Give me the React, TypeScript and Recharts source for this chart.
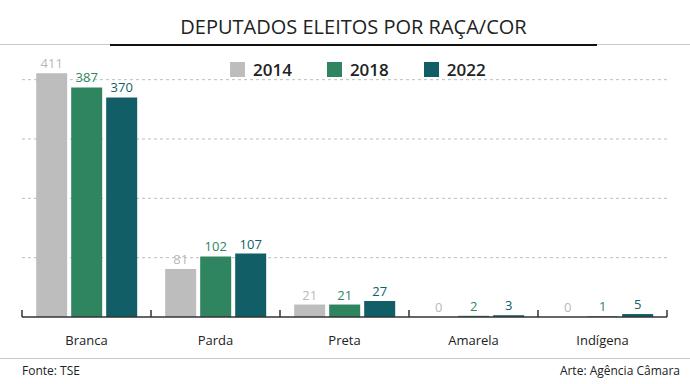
import { BarChart, Bar, XAxis, YAxis, CartesianGrid, LabelList } from "recharts"

const categories = ["Branca", "Parda", "Preta", "Amarela", "Indígena"]
const values2014 = [411, 81, 21, 0, 0]
const values2018 = [387, 102, 21, 2, 1]
const values2022 = [370, 107, 27, 3, 5]
const years = ["2014", "2018", "2022"]
const barColors = ["#bdbdbd", "#2e8560", "#125e66"]
const labelColors = ["#b8b8b8", "#2e8560", "#125e66"]
const yTicks = [0, 100, 200, 300, 400]
const gridValues = [100, 200, 300, 400]

const chartData = categories.map((name, i) => ({
    name,
    y2014: values2014[i],
    y2018: values2018[i],
    y2022: values2022[i],
}))

const font = "'Open Sans', sans-serif"
const TICK_MARGIN = 19

// category label plus small upward tick marks at the category edges
const CategoryTick = (props: any) => {
    const { x, y, payload, index, visibleTicksCount } = props
    const half = payload.offset || 0
    const axisY = y - TICK_MARGIN
    const isLast = index === visibleTicksCount - 1
    return (
        <g>
            <line x1={x - half} x2={x - half} y1={axisY} y2={axisY - 7} stroke="#333" strokeWidth={1.5} />
            {isLast && <line x1={x + half} x2={x + half} y1={axisY} y2={axisY - 7} stroke="#333" strokeWidth={1.5} />}
            <text x={x} y={y} dy="0.71em" textAnchor="middle" fill="#222" fontSize={13} fontFamily={font}>
                {payload.value}
            </text>
        </g>
    )
}

export default function App() {
    return (
        <div style={{ position: "absolute", left: 0, top: 0, width: 690, height: 384, background: "#fff", fontFamily: font }}>
            {/* title */}
            <div style={{ position: "absolute", left: 110, width: 487, top: 13, textAlign: "center", fontSize: 20, color: "#222" }}>
                DEPUTADOS ELEITOS POR RAÇA/COR
            </div>
            <div style={{ position: "absolute", left: 0, width: 690, top: 44, height: 1, background: "#c8c8c8" }} />
            <div style={{ position: "absolute", left: 110, width: 487, top: 44, height: 2, background: "#111" }} />

            <BarChart
                width={690}
                height={384}
                data={chartData}
                margin={{ top: 50, right: 23, left: 22, bottom: 37 }}
                barCategoryGap="11%"
                barGap={4}
            >
                <CartesianGrid vertical={false} stroke="#bdbdbd" strokeDasharray="3 3" horizontalValues={gridValues} />
                <YAxis hide domain={[0, 450]} ticks={yTicks} />
                <XAxis
                    dataKey="name"
                    height={30}
                    axisLine={{ stroke: "#333", strokeWidth: 1.5 }}
                    tickLine={false}
                    tickSize={0}
                    tickMargin={TICK_MARGIN}
                    tick={<CategoryTick />}
                />
                {years.map((yr, i) => (
                    <Bar key={yr} dataKey={"y" + yr} fill={barColors[i]} minPointSize={0.01} isAnimationActive={false}>
                        <LabelList dataKey={"y" + yr} position="top" offset={5} fill={labelColors[i]} fontSize={13} fontFamily={font} />
                    </Bar>
                ))}
            </BarChart>

            {/* legend */}
            <div style={{ position: "absolute", left: 230, top: 58, display: "flex", alignItems: "center" }}>
                {years.map((yr, i) => (
                    <div key={yr} style={{ display: "flex", alignItems: "center", marginRight: 35 }}>
                        <div style={{ width: 15, height: 15, background: barColors[i], marginRight: 8 }} />
                        <span style={{ fontSize: 17, fontWeight: 600, color: "#222" }}>{yr}</span>
                    </div>
                ))}
            </div>

            {/* footer */}
            <div style={{ position: "absolute", left: 0, width: 690, top: 358, height: 1, background: "#c8c8c8" }} />
            <div style={{ position: "absolute", left: 22, top: 362, fontSize: 12, color: "#222" }}>Fonte: TSE</div>
            <div style={{ position: "absolute", right: 10, top: 362, fontSize: 12, color: "#222" }}>Arte: Agência Câmara</div>
        </div>
    )
}
